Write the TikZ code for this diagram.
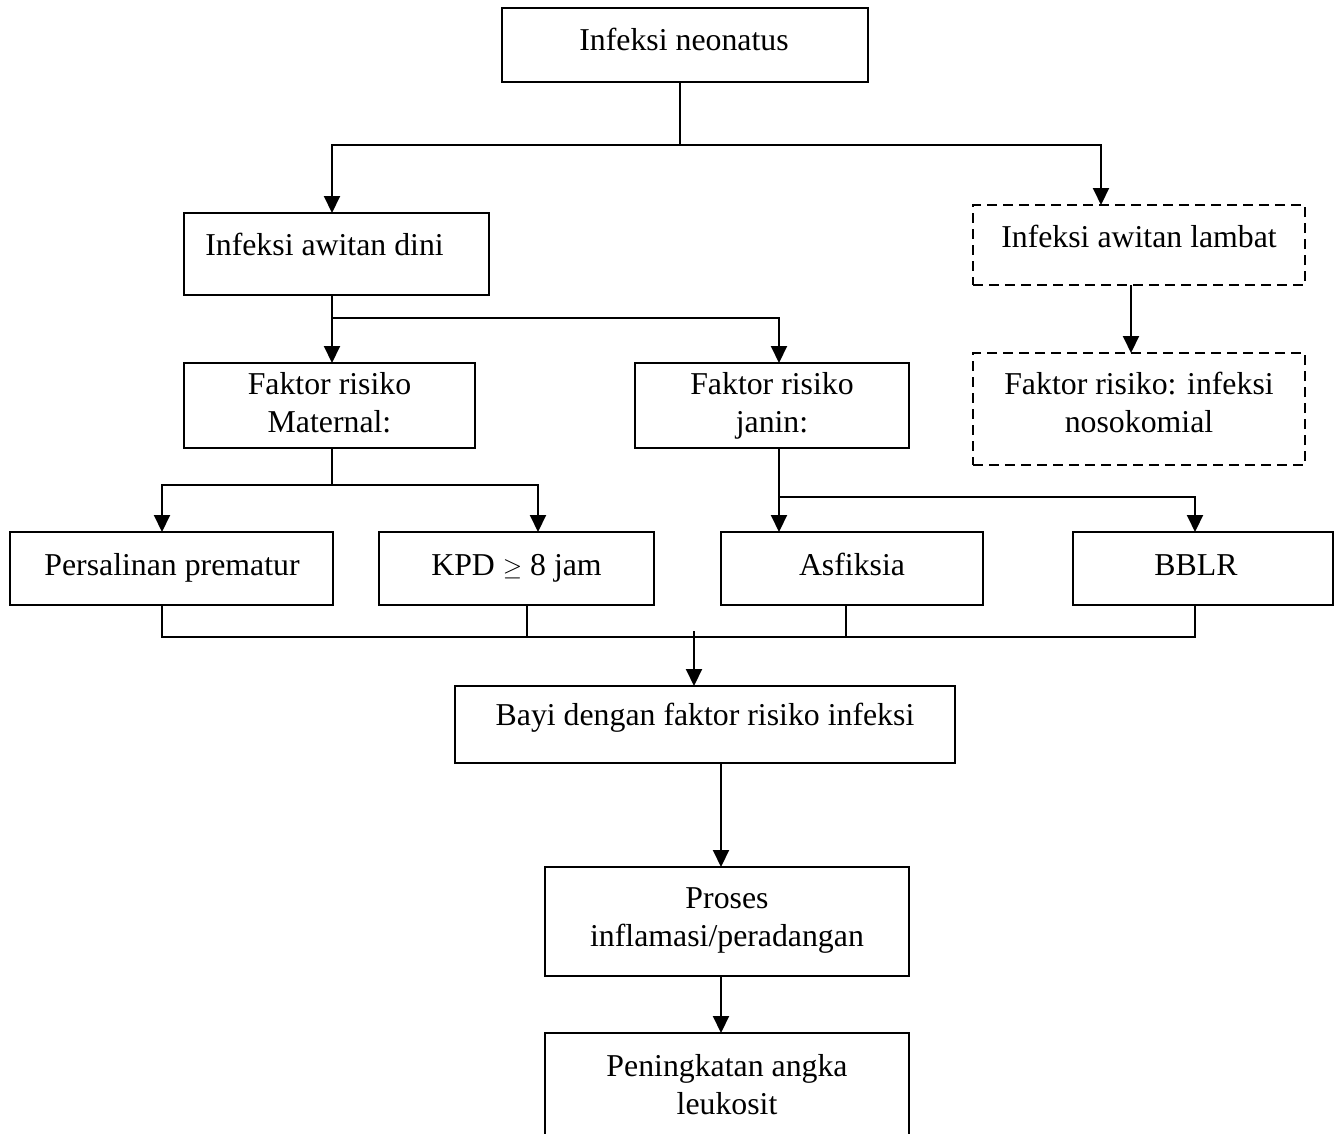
\documentclass[tikz,border=0pt]{standalone}
\usepackage{fontspec}
\setmainfont{Liberation Serif}
\usetikzlibrary{arrows.meta}
\begin{document}
\begin{tikzpicture}[x=1pt,y=-1pt,
  box/.style={draw, line width=2.6pt, inner sep=0pt, outer sep=0pt},
  dbox/.style={box, dash pattern=on 10pt off 6pt},
  txt/.style={font=\fontsize{31.8}{38}\selectfont, align=center, inner sep=0pt},
  txtone/.style={txt, text height=0.7em, text depth=0.2em},
  conn/.style={line width=2pt},
  arr/.style={conn, -{Triangle[width=16pt,length=17pt]}}]
\useasboundingbox (0,0) rectangle (1338,1133);

% boxes
\node[box, minimum width=366pt, minimum height=74pt] (top) at (685,45) {};
\node[box, minimum width=305pt, minimum height=82pt] (dini) at (336.5,254) {};
\node[dbox, minimum width=332pt, minimum height=80pt] (lambat) at (1139,245) {};
\node[dbox, minimum width=332pt, minimum height=112pt] (noso) at (1139,409) {};
\node[box, minimum width=291pt, minimum height=85pt] (mat) at (329.5,405.5) {};
\node[box, minimum width=274pt, minimum height=85pt] (jan) at (772,405.5) {};
\node[box, minimum width=323pt, minimum height=73pt] (pers) at (171.5,568.5) {};
\node[box, minimum width=275pt, minimum height=73pt] (kpd) at (516.5,568.5) {};
\node[box, minimum width=262pt, minimum height=73pt] (asf) at (852,568.5) {};
\node[box, minimum width=260pt, minimum height=73pt] (bblr) at (1203,568.5) {};
\node[box, minimum width=500pt, minimum height=77pt] (bayi) at (705,724.5) {};
\node[box, minimum width=364pt, minimum height=109pt] (proses) at (727,921.5) {};
\node[box, minimum width=364pt, minimum height=160pt] (pen) at (727,1113) {};

% texts
\node[txtone] (t-top) at (684,48) {Infeksi neonatus};
\node[txtone] (t-dini) at (324.5,253) {Infeksi awitan dini};
\node[txtone] (t-lambat) at (1139,245) {Infeksi awitan lambat};
\node[txt] (t-noso) at (1139,402) {Faktor risiko: infeksi\\nosokomial};
\node[txt] (t-mat) at (329.5,403) {Faktor risiko\\Maternal:};
\node[txt] (t-jan) at (772,406) {Faktor risiko\\janin:};
\node[txtone] (t-pers) at (172,573) {Persalinan prematur};
\node[txtone] (t-kpd) at (516.5,573) {KPD \(\geq\) 8 jam};
\node[txtone] (t-asf) at (852,573) {Asfiksia};
\node[txtone] (t-bblr) at (1196,573) {BBLR};
\node[txtone] (t-bayi) at (705,723) {Bayi dengan faktor risiko infeksi};
\node[txt] (t-proses) at (727,921) {Proses\\inflamasi/peradangan};
\node[txt] (t-pen) at (727,1085) {Peningkatan angka\\leukosit};

% connectors
\draw[conn] ([xshift=-5pt]top.south) -- ++(0,63) coordinate (j1);
\draw[arr] (j1) -| ([xshift=-4.5pt]dini.north);
\draw[arr] (j1) -| ([xshift=-38pt]lambat.north);
\draw[arr] ([xshift=-8pt]lambat.south) -- ([xshift=-8pt]noso.north);

\draw[conn] ([xshift=-4.5pt]dini.south) -- ++(0,23) coordinate (j2);
\draw[arr] (j2) -- (mat.north -| j2);
\draw[arr] (j2) -| ([xshift=7pt]jan.north);

\draw[conn] (mat.south -| j2) -- ++(0,37) coordinate (j3);
\draw[arr] (j3) -| ([xshift=-9.5pt]pers.north);
\draw[arr] (j3) -| ([xshift=21.5pt]kpd.north);

\draw[conn] ([xshift=7pt]jan.south) -- ++(0,49) coordinate (j4);
\draw[arr] (j4) -- (asf.north -| j4);
\draw[arr] (j4) -| ([xshift=-8pt]bblr.north);

\coordinate (s1) at ([xshift=-9.5pt]pers.south);
\coordinate (s2) at ([xshift=10.5pt]kpd.south);
\coordinate (s3) at ([xshift=-6pt]asf.south);
\coordinate (s4) at ([xshift=-8pt]bblr.south);
\coordinate (b1) at ([xshift=-11pt]bayi.north);
\draw[conn] (s1) -- ++(0,32) coordinate (m1) -- (m1 -| s4) -- (s4);
\draw[conn] (s2) -- (m1 -| s2);
\draw[conn] (s3) -- (m1 -| s3);
\draw[arr] ([yshift=6pt]m1 -| b1) -- (b1);

\draw[arr] ([xshift=-6pt]proses.north |- bayi.south) -- ([xshift=-6pt]proses.north);
\draw[arr] ([xshift=-6pt]proses.south) -- ([xshift=-6pt]pen.north);
\end{tikzpicture}
\end{document}
